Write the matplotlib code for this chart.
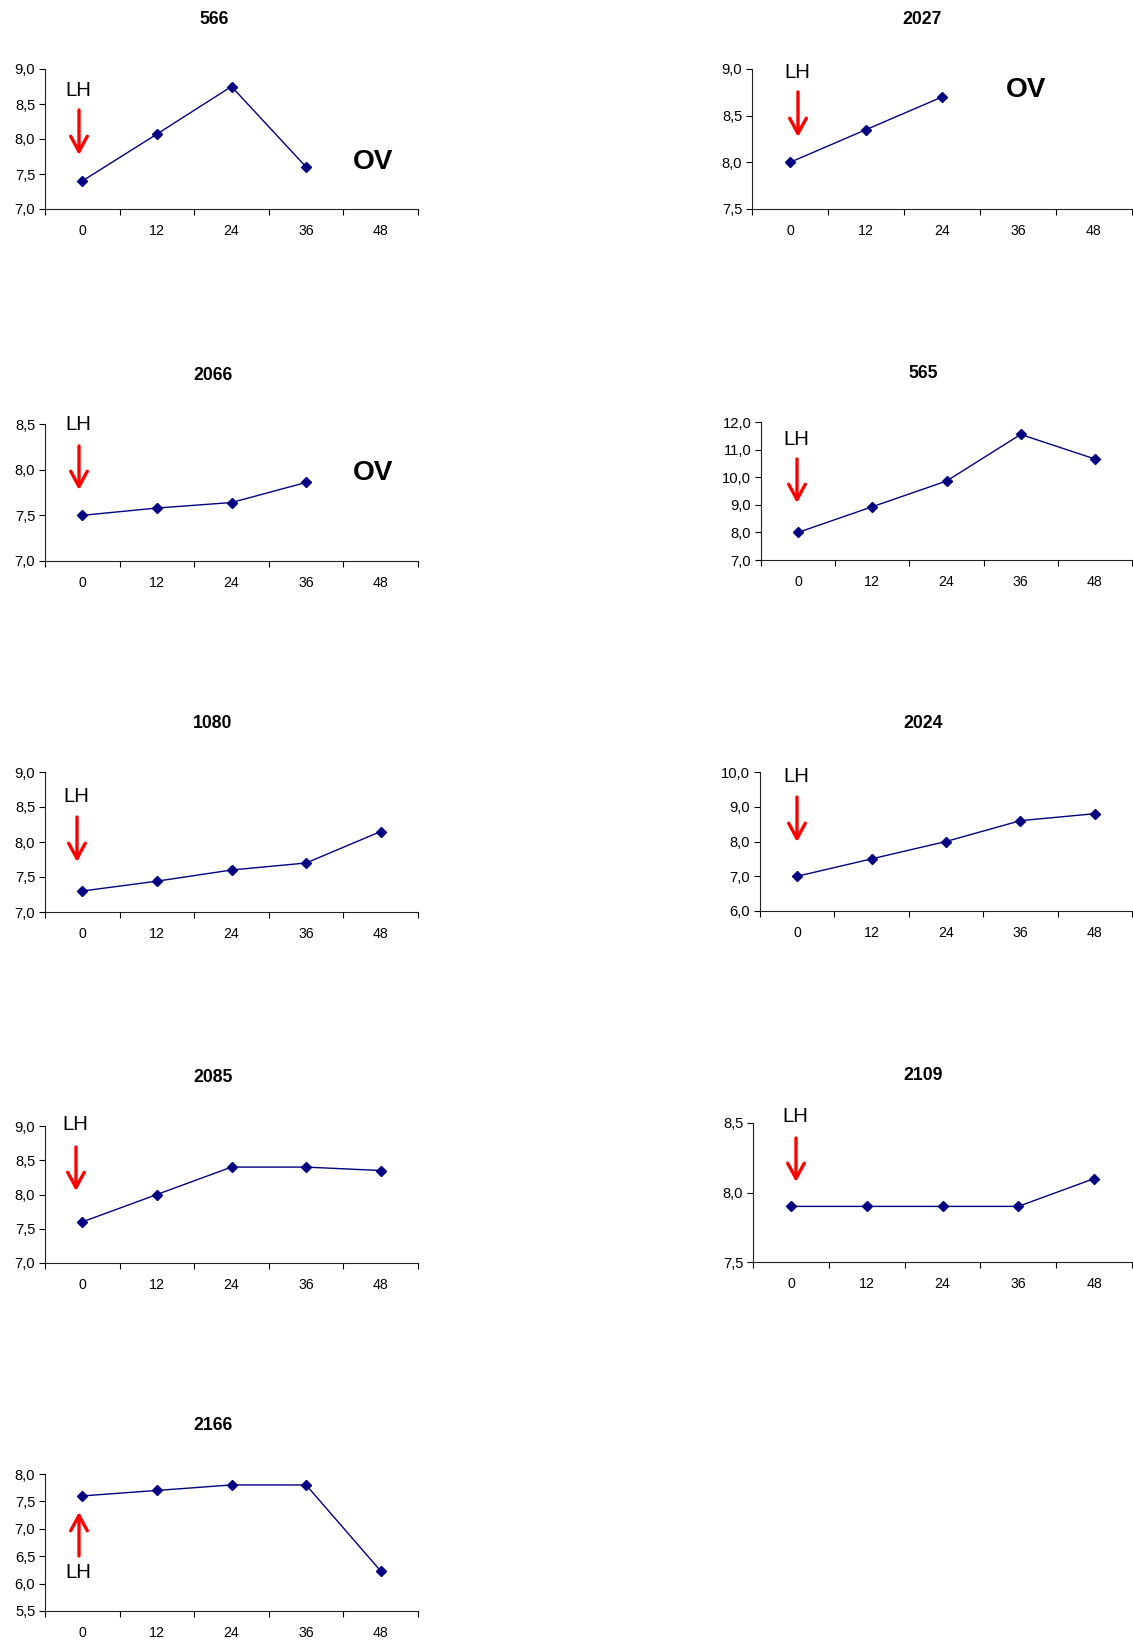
import matplotlib
matplotlib.use("Agg")
import matplotlib.pyplot as plt
from matplotlib.ticker import FixedLocator, FuncFormatter

plt.rcParams["font.family"] = ["Liberation Sans", "DejaVu Sans"]

W, H = 1133, 1641

hours = ["0", "12", "24", "36", "48"]

# pH readings per animal, sampled every 12 h after LH
ids = ["566", "2027", "2066", "565", "1080", "2024", "2085", "2109", "2166"]
v566 = [7.40, 8.07, 8.75, 7.60]
v2027 = [8.00, 8.35, 8.70]
v2066 = [7.50, 7.58, 7.64, 7.86]
v565 = [8.00, 8.93, 9.86, 11.55, 10.66]
v1080 = [7.30, 7.44, 7.60, 7.70, 8.15]
v2024 = [7.00, 7.50, 8.00, 8.60, 8.80]
v2085 = [7.60, 8.00, 8.40, 8.40, 8.35]
v2109 = [7.90, 7.90, 7.90, 7.90, 8.10]
v2166 = [7.60, 7.70, 7.80, 7.80, 6.23]
values = [v566, v2027, v2066, v565, v1080, v2024, v2085, v2109, v2166]

# y-axis range and step for each panel
y_ranges = [(7.0, 9.0, 0.5), (7.5, 9.0, 0.5), (7.0, 8.5, 0.5), (7.0, 12.0, 1.0),
            (7.0, 9.0, 0.5), (6.0, 10.0, 1.0), (7.0, 9.0, 0.5), (7.5, 8.5, 0.5),
            (5.5, 8.0, 0.5)]

# layout in pixels: axes (left, top, right, bottom), title centre
boxes = [(45, 69, 418, 209), (752, 69, 1132, 209),
         (45, 424, 418, 561), (761, 422, 1132, 560),
         (45, 772, 418, 912), (760, 772, 1132, 911),
         (45, 1126, 418, 1263), (753, 1123, 1132, 1262),
         (45, 1474, 418, 1611)]
title_xy = [(214, 20), (922, 20), (213, 376), (923, 374), (213, 723),
            (923, 724), (213, 1077), (923, 1075), (213, 1426)]

# LH label and arrow (x, label y, arrow start y, arrow end y)
lh = [(78, 90, 110, 155), (797, 72, 92, 137), (78, 425, 446, 490),
      (796, 439, 459, 503), (76, 797, 817, 862), (796, 777, 797, 842),
      (75, 1125, 1147, 1191), (795, 1117, 1138, 1182), (78, 1573, 1556, 1512)]
ov = {0: (373, 162), 1: (1026, 90), 2: (373, 473)}


def comma(v, pos):
    return f"{v:.1f}".replace(".", ",")


fig = plt.figure(figsize=(W / 100, H / 100), dpi=100)

for i, name in enumerate(ids):
    l, t, r, b = boxes[i]
    ax = fig.add_axes([l / W, 1 - b / H, (r - l) / W, (b - t) / H])
    vals = values[i]
    ax.plot(range(len(vals)), vals, color="#000080", lw=1.0, marker="D",
            ms=4.6, mfc="#000080", mec="#000080", clip_on=False)

    lo, hi, step = y_ranges[i]
    n = int(round((hi - lo) / step))
    ax.set_ylim(lo, hi)
    ax.yaxis.set_major_locator(FixedLocator([lo + k * step for k in range(n + 1)]))
    ax.yaxis.set_major_formatter(FuncFormatter(comma))

    ax.set_xlim(-0.5, 4.5)
    ax.xaxis.set_major_locator(FixedLocator([k - 0.5 for k in range(6)]))
    ax.xaxis.set_major_formatter(FuncFormatter(lambda v, p: ""))
    ax.xaxis.set_minor_locator(FixedLocator(range(5)))
    ax.set_xticklabels(hours, minor=True)
    ax.tick_params(axis="x", which="major", length=4, width=0.8, direction="out")
    ax.tick_params(axis="x", which="minor", length=0, pad=11, labelsize=10.2)
    ax.tick_params(axis="y", length=4, width=0.8, direction="out", pad=3, labelsize=10.6)

    for s in ("top", "right"):
        ax.spines[s].set_visible(False)
    for s in ("left", "bottom"):
        ax.spines[s].set_linewidth(0.8)
        ax.spines[s].set_color("#222222")

    tx, ty = title_xy[i]
    fig.text(tx / W, 1 - ty / H, name, ha="center", va="center",
             fontsize=12.7, fontweight="bold")

    lx, ly, a0, a1 = lh[i]
    fig.text(lx / W, 1 - ly / H, "LH", ha="center", va="center", fontsize=14.7)
    ax.annotate("", xy=(lx + 1, H - a1), xytext=(lx + 1, H - a0),
                xycoords="figure pixels", textcoords="figure pixels",
                arrowprops=dict(arrowstyle="->,head_length=0.55,head_width=0.3",
                                color="red", lw=2.4, mutation_scale=20,
                                shrinkA=0, shrinkB=0))

    if i in ov:
        ox, oy = ov[i]
        fig.text(ox / W, 1 - oy / H, "OV", ha="center", va="center",
                 fontsize=20.2, fontweight="bold")

fig.savefig("out.png", dpi=100)
